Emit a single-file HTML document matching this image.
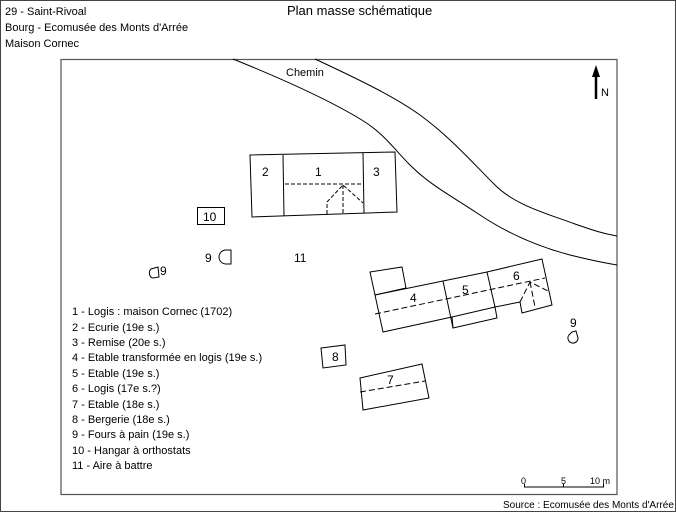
<!DOCTYPE html>
<html><head><meta charset="utf-8"><style>
body{margin:0;background:#fff}
svg text{font-family:"Liberation Sans",sans-serif;fill:#000}
</style></head><body>
<svg width="676" height="512" viewBox="0 0 676 512" xmlns="http://www.w3.org/2000/svg">
<rect width="676" height="512" fill="#fff"/>
<rect x="0.5" y="0.5" width="675" height="511" fill="none" stroke="#444" stroke-width="1"/>
<g font-size="11">
<text x="5" y="15">29 - Saint-Rivoal</text>
<text x="5" y="31">Bourg - Ecomusée des Monts d'Arrée</text>
<text x="5" y="47">Maison Cornec</text>
</g>
<text x="287" y="15" font-size="13">Plan masse schématique</text>
<rect x="61" y="59.5" width="556" height="435" fill="none" stroke="#555" stroke-width="1.2"/>
<g fill="none" stroke="#000" stroke-width="1">
<path d="M233,59 C280,78 330,100 365,122 C385,135 395,150 410,165 C430,185 450,195 480,215 C510,235 540,247 570,255 C590,260 605,263 617,265"/>
<path d="M315,59 C360,80 395,97 420,115 C450,137 470,160 495,185 C515,205 545,213 575,224 C595,231 605,234 617,236"/>
<polygon points="250,155 395,152 397,212 252,217" fill="#fff"/>
<line x1="283" y1="155" x2="284" y2="216"/>
<line x1="363" y1="153" x2="364" y2="213"/>
<g stroke-dasharray="4,2">
<line x1="285" y1="184" x2="362" y2="184"/>
<polyline points="327,214 327,202 343,185 363,203"/>
<line x1="343" y1="185" x2="343" y2="214"/>
</g>
<rect x="197.5" y="207.5" width="27" height="17"/>
<path d="M226,250 h5 v14 h-5 a7,7 0 0 1 0,-14z"/>
<path d="M158,267 l-7,2 a4,5 0 0 0 2,9 l6,-1z"/>
<path d="M572,332 l4,-1 l2,7 a5,5 0 0 1 -6,5 a5,5 0 0 1 -3,-8z"/>
<polygon points="370,272 402,267 406,288 375,295"/>
<polygon points="375,295 443,281 487,272 542,259 552,305 522,313 520,302 495,307 497,318 453,328 452,317 383,332" fill="#fff"/>
<line x1="443" y1="281" x2="453" y2="328"/>
<line x1="487" y1="272" x2="495" y2="307"/>
<line x1="452" y1="317" x2="495" y2="307"/>
<g stroke-dasharray="6,3">
<line x1="375" y1="314" x2="545" y2="278"/>
<polyline points="520,302 530,282 550,292"/>
<line x1="530" y1="282" x2="535" y2="307"/>
</g>
<polygon points="321,348 345,345 346,365 323,368"/>
<polygon points="360,378 422,364 429,398 363,410" fill="#fff"/>
<line x1="360" y1="392" x2="425" y2="381" stroke-dasharray="6,3"/>
<line x1="524" y1="487" x2="604" y2="487"/>
<line x1="524.5" y1="484" x2="524.5" y2="487"/>
<line x1="563.5" y1="484" x2="563.5" y2="487"/>
<line x1="603.5" y1="484" x2="603.5" y2="487"/>
<line x1="596" y1="75" x2="596" y2="99" stroke-width="2.5"/>
</g>
<polygon points="596,65 592,77 600,77" fill="#000"/>
<text x="601" y="96" font-size="11">N</text>
<g font-size="12">
<text x="286" y="76" font-size="11">Chemin</text>
<text x="262" y="176">2</text>
<text x="315" y="176">1</text>
<text x="373" y="176">3</text>
<text x="203" y="221">10</text>
<text x="205" y="262">9</text>
<text x="160" y="275">9</text>
<text x="294" y="262">11</text>
<text x="410" y="302">4</text>
<text x="462" y="294">5</text>
<text x="513" y="280">6</text>
<text x="570" y="327">9</text>
<text x="332" y="361">8</text>
<text x="387" y="384">7</text>
</g>
<g font-size="11">
<text x="72" y="315">1 - Logis : maison Cornec (1702)</text>
<text x="72" y="331">2 - Ecurie (19e s.)</text>
<text x="72" y="346">3 - Remise (20e s.)</text>
<text x="72" y="361">4 - Etable transformée en logis (19e s.)</text>
<text x="72" y="377">5 - Etable (19e s.)</text>
<text x="72" y="392">6 - Logis (17e s.?)</text>
<text x="72" y="408">7 - Etable (18e s.)</text>
<text x="72" y="423">8 - Bergerie (18e s.)</text>
<text x="72" y="438">9 - Fours à pain (19e s.)</text>
<text x="72" y="454">10 - Hangar à orthostats</text>
<text x="72" y="469">11 - Aire à battre</text>
</g>
<g font-size="9">
<text x="521" y="484">0</text>
<text x="561" y="484">5</text>
<text x="590" y="484">10 m</text>
</g>
<text x="503" y="508" font-size="10">Source : Ecomusée des Monts d'Arrée</text>
</svg>
</body></html>
